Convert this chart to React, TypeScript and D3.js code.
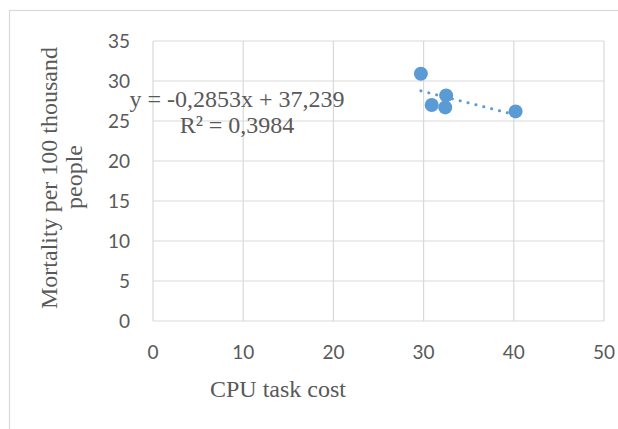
import React from 'react';
import * as d3 from 'd3';

// CPU task cost vs mortality
const cpuCost = [29.7, 30.9, 32.5, 32.4, 40.2];
const mortality = [30.9, 27.0, 28.2, 26.7, 26.2];

const xTicks = [0, 10, 20, 30, 40, 50];
const yTicks = [0, 5, 10, 15, 20, 25, 30, 35];

// trendline as reported in the chart
const slope = -0.2853;
const intercept = 37.239;
const equationLabel = 'y = -0,2853x + 37,239';
const r2Label = 'R² = 0,3984';

const xTitle = 'CPU task cost';
const yTitle = ['Mortality per 100 thousand', 'people'];

const width = 618;
const height = 429;
const margin = { top: 41, right: 14, bottom: 108, left: 153 };

const App: React.FC = () => {
  const xScale = d3
    .scaleLinear()
    .domain([0, 50])
    .range([margin.left, width - margin.right]);
  const yScale = d3
    .scaleLinear()
    .domain([0, 35])
    .range([height - margin.bottom, margin.top]);

  const grey = '#d9d9d9';
  const textColor = '#595959';
  const blue = '#5b9bd5';

  const xMin = d3.min(cpuCost) as number;
  const xMax = d3.max(cpuCost) as number;
  const trend = d3
    .line<number>()
    .x((d) => xScale(d))
    .y((d) => yScale(slope * d + intercept));

  return (
    <svg
      width={width}
      height={height}
      style={{ position: 'absolute', left: 0, top: 0, background: '#fff' }}
    >
      {/* outer chart border, cut off on right/bottom */}
      <rect x={9.5} y={10.5} width={700} height={500} fill="none" stroke={grey} strokeWidth={1.2} />

      {/* gridlines */}
      {yTicks.map((t) => (
        <line
          key={'gy' + t}
          x1={xScale(0)}
          x2={xScale(50)}
          y1={yScale(t)}
          y2={yScale(t)}
          stroke={grey}
          strokeWidth={1.2}
        />
      ))}
      {xTicks.map((t) => (
        <line
          key={'gx' + t}
          x1={xScale(t)}
          x2={xScale(t)}
          y1={yScale(0)}
          y2={yScale(35)}
          stroke={grey}
          strokeWidth={1.2}
        />
      ))}

      {/* tick labels */}
      <g fontFamily="Lato, 'Open Sans', sans-serif" fontSize={19} fill={textColor}>
        {yTicks.map((t) => (
          <text key={'ty' + t} x={130} y={yScale(t)} dy="0.35em" textAnchor="end">
            {t}
          </text>
        ))}
        {xTicks.map((t) => (
          <text key={'tx' + t} x={xScale(t)} y={359} textAnchor="middle">
            {t}
          </text>
        ))}
      </g>

      {/* trendline */}
      <path
        d={trend([xMin, xMax]) || ''}
        fill="none"
        stroke={blue}
        strokeWidth={3}
        strokeLinecap="round"
        strokeDasharray="0.1 8"
      />

      {/* points */}
      {cpuCost.map((c, i) => (
        <circle key={i} cx={xScale(c)} cy={yScale(mortality[i])} r={7} fill={blue} />
      ))}

      {/* equation */}
      <g fontFamily="'Liberation Serif', 'Times New Roman', serif" fontSize={24} fill={textColor} textAnchor="middle">
        <text x={237} y={107}>{equationLabel}</text>
        <text x={237} y={133}>{r2Label}</text>
      </g>

      {/* axis titles */}
      <g fontFamily="'Liberation Serif', 'Times New Roman', serif" fontSize={24} fill={textColor} textAnchor="middle">
        <text x={278} y={397}>{xTitle}</text>
        <text transform="translate(57,178) rotate(-90)">{yTitle[0]}</text>
        <text transform="translate(82,177) rotate(-90)">{yTitle[1]}</text>
      </g>
    </svg>
  );
};

export default App;
